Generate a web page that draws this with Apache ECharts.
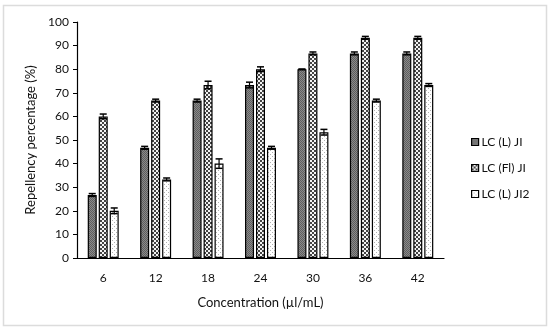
<!DOCTYPE html>
<html><head><meta charset="utf-8">
<script src="https://cdn.jsdelivr.net/npm/echarts@6/dist/echarts.min.js"></script>
<style>html,body{margin:0;padding:0;background:#fff}#c{width:550px;height:331px}</style>
</head><body><div id="c"></div>
<script>
const categories = ['6','12','18','24','30','36','42'];
const seriesNames = ['LC (L) JI','LC (Fl) JI','LC (L) JI2'];
const lcL = [26.7, 46.7, 66.7, 73.3, 80.0, 86.7, 86.7];
const lcFl = [60.0, 66.7, 73.3, 80.0, 86.7, 93.3, 93.3];
const lcL2 = [20.0, 33.3, 40.0, 46.7, 53.3, 66.7, 73.3];
const errL = [0.6, 0.6, 0.6, 1.2, 0.0, 0.6, 0.6];
const errFl = [1.0, 0.6, 1.6, 1.0, 0.6, 0.6, 0.6];
const errL2 = [1.2, 0.6, 2.0, 0.6, 1.2, 0.6, 0.6];
const yTicks = [0,10,20,30,40,50,60,70,80,90,100];

function pat(size, draw){
  const c = document.createElement('canvas'); c.width = size; c.height = size;
  const g = c.getContext('2d'); draw(g); return c;
}
const p1 = pat(2, g => { g.fillStyle='#8a8a8a'; g.fillRect(0,0,2,2); g.fillStyle='#5e5e5e'; g.fillRect(0,0,1,1); g.fillRect(1,1,1,1); });
const p2 = pat(4, g => { g.fillStyle='#f4f4f4'; g.fillRect(0,0,4,4); g.fillStyle='#444'; g.fillRect(0,0,2,2); g.fillRect(2,2,2,2); });
const p3 = pat(4, g => { g.fillStyle='#ffffff'; g.fillRect(0,0,4,4); g.fillStyle='#b0b0b0'; g.fillRect(0,0,1,1); g.fillRect(2,2,1,1); });
const pats = [p1,p2,p3];
const vals = [lcL, lcFl, lcL2];
const errs = [errL, errFl, errL2];
const offsets = [-11, 0, 11];

const series = [];
vals.forEach((v,i)=>{
  series.push({
    name: seriesNames[i], type:'bar', data:v, barWidth:9, barGap:'22%',
    itemStyle:{color:{image:pats[i], repeat:'repeat'}, borderColor:'#000', borderWidth:1.2},
    emphasis:{disabled:true}
  });
});
vals.forEach((v,i)=>{
  series.push({
    type:'custom', silent:true, z:5,
    data: v.map((d,k)=>[k,d,errs[i][k]]),
    renderItem:(params, api)=>{
      const k = api.value(0), m = api.value(1), e = api.value(2);
      const top = api.coord([k, m+e]), bot = api.coord([k, m-e]);
      const x = top[0] + offsets[i];
      const hw = 3.5;
      return {type:'group', children:[
        {type:'line', shape:{x1:x,y1:top[1],x2:x,y2:bot[1]}, style:{stroke:'#000',lineWidth:1.2}},
        {type:'line', shape:{x1:x-hw,y1:top[1],x2:x+hw,y2:top[1]}, style:{stroke:'#000',lineWidth:1.5}},
        {type:'line', shape:{x1:x-hw,y1:bot[1],x2:x+hw,y2:bot[1]}, style:{stroke:'#000',lineWidth:1.5}}
      ]};
    }
  });
});

const chart = echarts.init(document.getElementById('c'), null, {renderer:'canvas'});
chart.setOption({
  animation:false,
  textStyle:{fontFamily:'Lato'},
  graphic:[{type:'rect', shape:{x:3.5,y:5.5,width:543,height:320}, style:{fill:'none', stroke:'#dcdcdc', lineWidth:1.5}, z:-1}],
  grid:{left:77, right:106, top:22, bottom:73, containLabel:false},
  legend:{
    data:seriesNames, orient:'vertical', left:466, top:131, itemWidth:7, itemHeight:7, itemGap:14,
    icon:'rect',
    textStyle:{fontSize:12, color:'#111', fontFamily:'Lato', padding:[0,0,0,-2]},
    itemStyle:{borderColor:'#000', borderWidth:1.2}
  },
  xAxis:{
    type:'category', data:categories,
    name:'Concentration (µl/mL)', nameLocation:'middle', nameGap:38,
    nameTextStyle:{fontSize:13, color:'#111', fontFamily:'Lato'},
    axisLine:{lineStyle:{color:'#000', width:1.2}}, axisTick:{show:false},
    axisLabel:{fontSize:12, color:'#111', margin:14}
  },
  yAxis:{
    type:'value', min:yTicks[0], max:yTicks[yTicks.length-1], interval:10,
    name:'Repellency percentage (%)', nameLocation:'middle', nameGap:38, nameRotate:90,
    nameTextStyle:{fontSize:13, color:'#111', fontFamily:'Lato'},
    axisLine:{show:true, lineStyle:{color:'#000', width:1.2}},
    axisTick:{show:true, length:4, lineStyle:{color:'#000'}},
    splitLine:{show:false},
    axisLabel:{fontSize:12, color:'#111', margin:8}
  },
  series
});
</script></body></html>
